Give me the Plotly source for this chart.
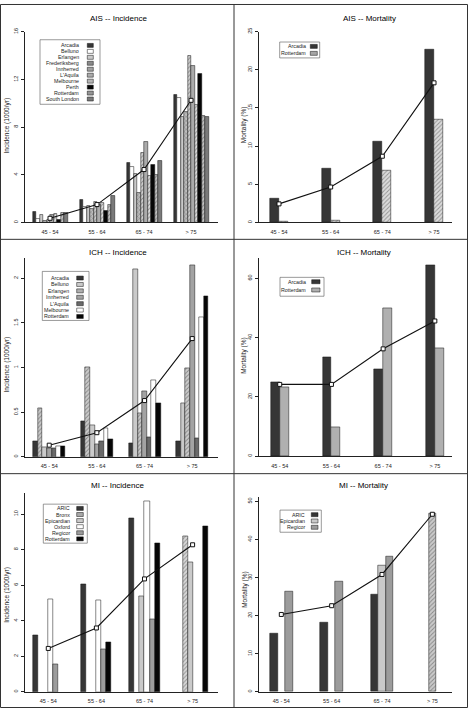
import plotly.graph_objects as go

# ---------------- data ----------------
AGE_GROUPS = ["45 - 54", "55 - 64", "65 - 74", "> 75"]

AIS_INC_STUDIES = ["Arcadia", "Belluno", "Erlangen", "Frederiksberg", "Innherred",
                   "L'Aquila", "Melbourne", "Perth", "Rotterdam", "South London"]
AIS_INC_VALUES = [
    [0.92, 1.86, 5.00, 10.72],
    [0.33, 1.32, 4.67, 10.44],
    [0.64, 1.43, 4.08, 8.83],
    [0.14, 1.15, 2.47, 9.30],
    [0.20, 1.72, 5.83, 14.00],
    [0.64, 1.50, 6.75, 13.15],
    [0.75, 1.62, 3.90, 9.90],
    [0.21, 1.00, 4.86, 12.50],
    [0.83, 1.50, 3.97, 8.97],
    [0.83, 2.21, 5.14, 8.90],
]
AIS_INC_MEAN = [0.35, 1.50, 4.44, 10.25]

AIS_MORT_STUDIES = ["Arcadia", "Rotterdam"]
AIS_MORT_VALUES = [
    [3.12, 7.06, 10.66, 22.66],
    [0.13, 0.26, 6.85, 13.47],
]
AIS_MORT_MEAN = [2.43, 4.64, 8.67, 18.28]

ICH_INC_STUDIES = ["Arcadia", "Belluno", "Erlangen", "Innherred", "L'Aquila", "Melbourne", "Rotterdam"]
ICH_INC_VALUES = [
    [0.175, 0.40, 0.15, 0.17],
    [0.55, 1.00, 2.10, 0.605],
    [0.11, 0.356, 0.49, 0.99],
    [0.10, 0.145, 0.74, 2.15],
    [0.093, 0.175, 0.22, 0.21],
    [0.12, 0.32, 0.854, 1.56],
    [0.115, 0.20, 0.605, 1.80],
]
ICH_INC_MEAN = [0.13, 0.27, 0.63, 1.325]

ICH_MORT_STUDIES = ["Arcadia", "Rotterdam"]
ICH_MORT_VALUES = [
    [25.1, 33.3, 29.4, 64.6],
    [23.1, 9.8, 49.9, 36.4],
]
ICH_MORT_MEAN = [24.2, 24.2, 36.2, 45.6]

MI_INC_STUDIES = ["ARIC", "Bronx", "Epicardian", "Oxford", "Regicor", "Rotterdam"]
MI_INC_VALUES = [
    [3.18, 6.05, 9.76, None],
    [None, None, None, 8.77],
    [None, None, 5.40, 7.28],
    [5.23, 5.16, 10.74, None],
    [1.56, 2.42, 4.10, None],
    [None, 2.81, 8.36, 9.29],
]
MI_INC_MEAN = [2.44, 3.59, 6.35, 8.27]

MI_MORT_STUDIES = ["ARIC", "Epicardian", "Regicor"]
MI_MORT_VALUES = [
    [15.28, 18.1, 25.6, None],
    [None, None, 33.2, 46.8],
    [26.2, 29.0, 35.6, None],
]
MI_MORT_MEAN = [20.3, 22.6, 30.8, 46.6]

# ---------------- styling ----------------
FIG_W, FIG_H = 468, 709
FONT = "Liberation Sans, Arial, Helvetica, sans-serif"
INK = "#1c1c1c"


def fx(x):
    return x / FIG_W


def fy(y):
    return 1 - y / FIG_H


DARK, BLACK, WHITE, LIGHT, GRAY, DGRAY = "#363636", "#060606", "#ffffff", "#cacaca", "#9c9c9c", "#707070"


def S(fill, shape="", swatch=None):
    return dict(fill=fill, shape=shape, swatch=swatch or fill)


PANELS = [
    dict(title="AIS -- Incidence", ytitle="Incidence (1000/yr)",
         studies=AIS_INC_STUDIES, values=AIS_INC_VALUES, mean=AIS_INC_MEAN,
         styles=[S(DARK), S(WHITE), S(LIGHT), S("#bdbdbd", "x", "#8a8a8a"),
                 S("#d0d0d0", "/", "#a0a0a0"), S("#ababab"), S("#e0e0e0", "/", "#b5b5b5"),
                 S(BLACK), S("#c4c4c4", "/", "#959595"), S("#7a7a7a")],
         box=(25, 218, 28, 220), yrange=[0, 16], dtick=4, xrange=[-0.532, 3.574], gw=0.745,
         title_xy=(118.7, 15), ytitle_xy=(6.7, 122.7),
         leg=dict(box=(40, 100, 36, 101), y0=41.7, dy=6.0, tx=81, sw=(87.3, 93.3))),
    dict(title="AIS -- Mortality", ytitle="Mortality (%)",
         studies=AIS_MORT_STUDIES, values=AIS_MORT_VALUES, mean=AIS_MORT_MEAN,
         styles=[S(DARK), S("#dcdcdc", "/", "#a5a5a5")],
         box=(259, 452, 27.7, 220), yrange=[0, 25], dtick=5, xrange=[-0.387, 3.348], gw=0.348,
         title_xy=(369.5, 15), ytitle_xy=(244, 122),
         leg=dict(box=(279.7, 319.7, 38.3, 54.3), y0=42.7, dy=7.0, tx=308, sw=(310.3, 317.3))),
    dict(title="ICH -- Incidence", ytitle="Incidence (1000/yr)",
         studies=ICH_INC_STUDIES, values=ICH_INC_VALUES, mean=ICH_INC_MEAN,
         styles=[S(DARK), S(LIGHT, ["/", "/", "", ""]), S(LIGHT, ["", "", "/", "/"], "#b0b0b0"),
                 S("#a3a3a3"), S("#6a6a6a"), S(WHITE), S(BLACK)],
         box=(25, 218, 256, 456), yrange=[0, 2.226], dtick=0.5, xrange=[-0.508, 3.541], gw=0.671,
         title_xy=(118, 250), ytitle_xy=(7.3, 362.7),
         leg=dict(box=(42.3, 89, 269.3, 318.7), y0=276, dy=6.45, tx=70.7, sw=(76.7, 83.3))),
    dict(title="ICH -- Mortality", ytitle="Mortality (%)",
         studies=ICH_MORT_STUDIES, values=ICH_MORT_VALUES, mean=ICH_MORT_MEAN,
         styles=[S(DARK), S("#b0b0b0")],
         box=(259, 452, 256, 455.3), yrange=[0, 66.8], dtick=20, xrange=[-0.401, 3.332], gw=0.342,
         title_xy=(363.5, 250), ytitle_xy=(244, 354.3),
         leg=dict(box=(280, 324, 275.3, 294.3), y0=279.7, dy=8.3, tx=308, sw=(311.7, 320))),
    dict(title="MI -- Incidence", ytitle="Incidence (1000/yr)",
         studies=MI_INC_STUDIES, values=MI_INC_VALUES, mean=MI_INC_MEAN,
         styles=[S(DARK), S("#d8d8d8", "/", "#a8a8a8"), S(LIGHT), S(WHITE), S(GRAY), S(BLACK)],
         box=(25, 218, 492.7, 692.7), yrange=[0, 11.17], dtick=2, xrange=[-0.484, 3.528], gw=0.624,
         title_xy=(117, 485.3), ytitle_xy=(6.7, 595.3),
         leg=dict(box=(43.3, 87.3, 503.7, 543), y0=508, dy=6.13, tx=71.7, sw=(76.7, 83.3))),
    dict(title="MI -- Mortality", ytitle="Mortality (%)",
         studies=MI_MORT_STUDIES, values=MI_MORT_VALUES, mean=MI_MORT_MEAN,
         styles=[S(DARK), S(LIGHT, ["", "", "", "/"]), S(GRAY)],
         box=(259, 452, 497, 692.7), yrange=[0, 51], dtick=10, xrange=[-0.443, 3.39], gw=0.451,
         title_xy=(363.5, 485.3), ytitle_xy=(244.7, 590.3),
         leg=dict(box=(280, 321.3, 509.7, 532), y0=514.3, dy=6.35, tx=307.3, sw=(311.3, 318))),
]

fig = go.Figure()
layout = dict(
    width=FIG_W, height=FIG_H, margin=dict(l=0, r=0, t=0, b=0),
    paper_bgcolor="white", plot_bgcolor="white",
    font=dict(family=FONT, color=INK, size=6),
    showlegend=False, barmode="group", bargap=0, bargroupgap=0,
)
shapes = []
annotations = []

for k, p in enumerate(PANELS, start=1):
    xa, ya = f"x{k}", f"y{k}"
    n = len(p["studies"])
    w = p["gw"] / n
    for i, (name, vals, st) in enumerate(zip(p["studies"], p["values"], p["styles"])):
        shp = st["shape"] if isinstance(st["shape"], list) else [st["shape"]] * len(vals)
        marker = dict(color=st["fill"], line=dict(color="#111111", width=0.5))
        if any(shp):
            marker["pattern"] = dict(shape=shp, fgcolor="#4a4a4a", bgcolor=st["fill"],
                                     size=3, solidity=0.32)
        fig.add_trace(go.Bar(x=AGE_GROUPS, y=vals, name=name, xaxis=xa, yaxis=ya,
                             width=w, offset=-p["gw"] / 2 + i * w, marker=marker))
    fig.add_trace(go.Scatter(x=AGE_GROUPS, y=p["mean"], mode="lines+markers", xaxis=xa, yaxis=ya,
                             line=dict(color="#111111", width=1.1),
                             marker=dict(symbol="square", size=4, color="white",
                                         line=dict(color="#111111", width=1))))
    x0, x1, yt, yb = p["box"]
    axn = "" if k == 1 else str(k)
    layout[f"xaxis{axn}"] = dict(
        domain=[fx(x0), fx(x1)], anchor=ya, range=p["xrange"], type="category",
        showline=True, linecolor="#222222", linewidth=0.8, showgrid=False, zeroline=False,
        ticks="outside", ticklen=4, tickcolor="rgba(0,0,0,0)",
        tickfont=dict(size=5.5, color=INK), fixedrange=True)
    layout[f"yaxis{axn}"] = dict(
        domain=[fy(yb), fy(yt)], anchor=xa, range=p["yrange"], dtick=p["dtick"], tick0=0,
        showline=True, linecolor="#222222", linewidth=0.8, showgrid=False, zeroline=False,
        ticks="outside", ticklen=3.5, tickwidth=0.8, tickcolor="#222222", tickangle=-90,
        tickfont=dict(size=5.5, color=INK), fixedrange=True)
    # titles
    tx, ty = p["title_xy"]
    annotations.append(dict(text=p["title"], x=fx(tx), y=fy(ty), xref="paper", yref="paper",
                            xanchor="center", yanchor="middle", showarrow=False,
                            font=dict(size=8, color="#000000")))
    ax_, ay_ = p["ytitle_xy"]
    annotations.append(dict(text=p["ytitle"], x=fx(ax_), y=fy(ay_), xref="paper", yref="paper",
                            xanchor="center", yanchor="middle", showarrow=False, textangle=-90,
                            font=dict(size=6.5, color=INK)))
    # legend box
    lg = p["leg"]
    bx0, bx1, by0, by1 = lg["box"]
    shapes.append(dict(type="rect", xref="paper", yref="paper", x0=fx(bx0), x1=fx(bx1),
                       y0=fy(by1), y1=fy(by0), line=dict(color="#555555", width=0.6),
                       fillcolor="white"))
    for i, (name, st) in enumerate(zip(p["studies"], p["styles"])):
        yy = lg["y0"] + i * lg["dy"]
        annotations.append(dict(text=name, x=fx(lg["tx"]), y=fy(yy), xref="paper", yref="paper",
                                xanchor="right", yanchor="middle", showarrow=False,
                                font=dict(size=5.3, color=INK)))
        shapes.append(dict(type="rect", xref="paper", yref="paper",
                           x0=fx(lg["sw"][0]), x1=fx(lg["sw"][1]),
                           y0=fy(yy + 2), y1=fy(yy - 2),
                           line=dict(color="#111111", width=0.5), fillcolor=st["swatch"]))

# panel frames
shapes.append(dict(type="rect", xref="paper", yref="paper", x0=fx(0.5), x1=fx(467.5),
                   y0=fy(708.5), y1=fy(0.5), line=dict(color="#333333", width=1)))
shapes.append(dict(type="line", xref="paper", yref="paper", x0=fx(234), x1=fx(234),
                   y0=0, y1=1, line=dict(color="#333333", width=1)))
for yy in (237, 473):
    shapes.append(dict(type="line", xref="paper", yref="paper", x0=0, x1=1,
                       y0=fy(yy), y1=fy(yy), line=dict(color="#333333", width=1)))

layout["shapes"] = shapes
layout["annotations"] = annotations
fig.update_layout(**layout)
fig.write_html("out.html", config={"displayModeBar": False},
               post_script="document.body.style.margin='0';document.body.style.overflow='hidden';")
